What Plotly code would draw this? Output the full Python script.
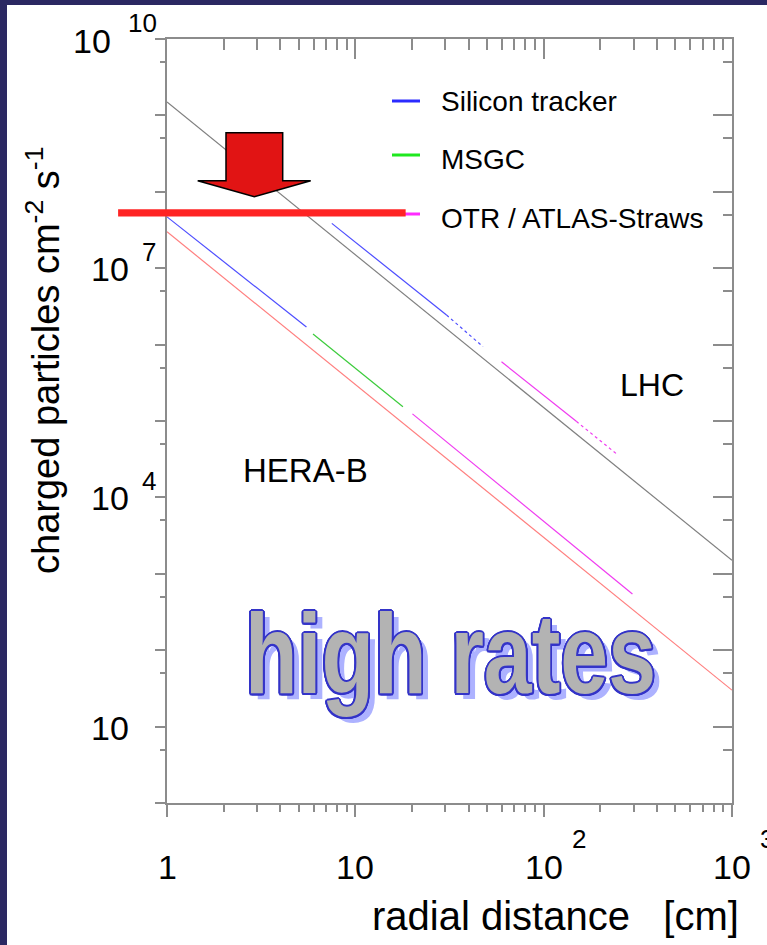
import math
import plotly.graph_objects as go

# ---------------- data ----------------
r_full = [1.0, 1000.0]
lhc_rate = [1.5e9, 1.5e3]            # LHC (gray)
herab_rate = [3.0e7, 30.0]           # HERA-B (salmon)

herab_si_r = [1.0, 5.5]
herab_si_rate = [4.7e7, 1.7e6]
herab_msgc_r = [5.96, 17.9]
herab_msgc_rate = [1.38e6, 1.54e5]
herab_otr_r = [20.1, 296.0]
herab_otr_rate = [1.24e5, 545.0]

lhc_si_r = [7.5, 30.5]
lhc_si_rate = [3.86e7, 2.44e6]
lhc_si_ext_r = [30.5, 47.6]
lhc_si_ext_rate = [2.44e6, 9.4e5]
lhc_otr_r = [59.7, 149.0]
lhc_otr_rate = [5.97e5, 9.9e4]
lhc_otr_ext_r = [149.0, 248.0]
lhc_otr_ext_rate = [9.9e4, 3.59e4]

legend_names = ["Silicon tracker", "MSGC", "OTR / ATLAS-Straws"]
ytick_vals = [10, 1e4, 1e7, 1e10]
ytick_exp = ["", "4", "7", "10"]
xtick_vals = [1, 10, 100, 1000]
xtick_base = ["1", "10", "10", "10"]
xtick_exp = ["", "", "2", "3"]

limit_rate = 5.3e7
limit_r = [0.55, 18.5]

# ---------------- styling ----------------
W, H = 767, 945
L, R, T, B = 167, 35, 39, 142
PW, PH = W - L - R, H - T - B
FONT = "Liberation Sans, Arial, Helvetica, sans-serif"
AX = "#8c8c8c"

C_SI, C_MSGC, C_OTR = "#4d4dff", "#3ccc3c", "#f03cf0"
C_SI_L, C_MSGC_L, C_OTR_L = "#2b2bff", "#1fe81f", "#ff2bff"
C_HERAB, C_LHC = "#ff7f7f", "#808080"


def px2x(px):
    return (px - L) / PW


def py2y(py):
    return (H - B - py) / PH


def lx(v):
    return math.log10(v) / 3.0


def ly(v):
    return math.log10(v) / 10.0


fig = go.Figure()


def seg(x, y, color, dash="solid", width=1.2, xa="x", ya="y"):
    fig.add_trace(go.Scatter(x=x, y=y, mode="lines", xaxis=xa, yaxis=ya,
                             line=dict(color=color, width=width, dash=dash),
                             showlegend=False, hoverinfo="skip"))


seg(r_full, herab_rate, C_HERAB)
seg(herab_si_r, herab_si_rate, C_SI)
seg(herab_msgc_r, herab_msgc_rate, C_MSGC)
seg(herab_otr_r, herab_otr_rate, C_OTR)
seg(lhc_si_r, lhc_si_rate, C_SI)
seg(lhc_si_ext_r, lhc_si_ext_rate, C_SI, dash="dot")
seg(lhc_otr_r, lhc_otr_rate, C_OTR)
seg(lhc_otr_ext_r, lhc_otr_ext_rate, C_OTR, dash="dot")
seg(r_full, lhc_rate, C_LHC, xa="x2", ya="y2")

x_major = [1, 10, 100, 1000]
x_minor = [m * 10 ** e for e in range(3) for m in range(2, 10)]
y_major = [10 ** e for e in range(11)]
y_minor = [5 * 10 ** e for e in range(10)]

common = dict(type="log", showgrid=False, zeroline=False, showline=True,
              linecolor=AX, linewidth=2, tickcolor=AX, tickwidth=1.5,
              tickmode="array", showticklabels=False)

fig.update_layout(
    width=W, height=H,
    margin=dict(l=L, r=R, t=T, b=B, pad=0),
    paper_bgcolor="white", plot_bgcolor="white",
    showlegend=False,
    xaxis=dict(range=[0, 3], tickvals=x_major, ticks="outside", ticklen=12,
               minor=dict(tickmode="array", tickvals=x_minor, ticks="outside",
                          ticklen=7, tickcolor=AX, tickwidth=1.5),
               **common),
    yaxis=dict(range=[0, 10], tickvals=y_major, ticks="outside", ticklen=10,
               minor=dict(tickmode="array", tickvals=y_minor, ticks="outside",
                          ticklen=5, tickcolor=AX, tickwidth=1.5),
               **common),
    xaxis2=dict(range=[0, 3], overlaying="x", side="top", anchor="y2",
                tickvals=x_major, ticks="inside", ticklen=20,
                minor=dict(tickmode="array", tickvals=x_minor, ticks="inside",
                           ticklen=11, tickcolor=AX, tickwidth=1.5),
                **common),
    yaxis2=dict(range=[0, 10], overlaying="y", side="right", anchor="x2",
                tickvals=y_major, ticks="inside", ticklen=19,
                minor=dict(tickmode="array", tickvals=y_minor, ticks="inside",
                           ticklen=9, tickcolor=AX, tickwidth=1.5),
                **common),
)

shapes = []
# dark slide background strips
BG = "#2b2862"
shapes.append(dict(type="rect", xref="paper", yref="paper", layer="below",
                   x0=px2x(0), x1=px2x(7), y0=py2y(H), y1=py2y(0),
                   fillcolor=BG, line=dict(width=0)))
shapes.append(dict(type="rect", xref="paper", yref="paper", layer="below",
                   x0=px2x(0), x1=px2x(W), y0=py2y(5), y1=py2y(0),
                   fillcolor=BG, line=dict(width=0)))

# legend samples
leg_y = [101, 155, 214]
leg_c = [C_SI_L, C_MSGC_L, C_OTR_L]
for yy, cc in zip(leg_y, leg_c):
    shapes.append(dict(type="line", xref="paper", yref="paper",
                       x0=px2x(392), x1=px2x(420), y0=py2y(yy), y1=py2y(yy),
                       line=dict(color=cc, width=3)))

# red limit bar
half = 3.7 / PH
shapes.append(dict(type="rect", xref="paper", yref="paper",
                   x0=lx(limit_r[0]), x1=lx(limit_r[1]),
                   y0=ly(limit_rate) - half, y1=ly(limit_rate) + half,
                   fillcolor="#ff2424", line=dict(width=0)))

# red block arrow
pts = [(226, 132.7), (282.7, 132.7), (282.7, 180.7), (310.7, 180.7),
       (254.3, 196.7), (197.7, 180.7), (226, 180.7)]
path = "M " + " L ".join(f"{px2x(a):.5f},{py2y(b):.5f}" for a, b in pts) + " Z"
shapes.append(dict(type="path", xref="paper", yref="paper", path=path,
                   fillcolor="#e11414", line=dict(color="black", width=1.5)))

fig.update_layout(shapes=shapes)

ann = []


def text(x, y, s, size, xanchor="center", yanchor="middle", color="black",
         family=FONT, **kw):
    ann.append(dict(x=x, y=y, xref="paper", yref="paper", text=s,
                    showarrow=False, xanchor=xanchor, yanchor=yanchor,
                    font=dict(family=family, size=size, color=color), **kw))


# y tick labels
for v, e in zip(ytick_vals, ytick_exp):
    yc = T + (10 - math.log10(v)) * PH / 10
    if e == "10":
        text(px2x(113), py2y(yc + 2), "10", 34, xanchor="right")
        text(px2x(126), py2y(yc - 16), e, 26, xanchor="left")
    else:
        text(px2x(131), py2y(yc + 1), "10", 34, xanchor="right")
        if e:
            text(px2x(140), py2y(yc - 16), e, 26, xanchor="left")

# x tick labels
for v, b_, e in zip(xtick_vals, xtick_base, xtick_exp):
    xc = L + math.log10(v) * PW / 3
    text(px2x(xc), py2y(867), b_, 34)
    if e:
        text(px2x(xc + 26), py2y(839), e, 26, xanchor="left")

# axis titles
text(px2x(741), py2y(916), "radial distance\u00a0\u00a0\u00a0[cm]", 40,
     xanchor="right")
text(px2x(43), py2y(361), "charged particles cm<sup>-2</sup> s<sup>-1</sup>",
     38, textangle=-90)

# legend texts
for yy, name in zip([101, 159, 218], legend_names):
    text(px2x(439), py2y(yy), name, 28, xanchor="left")

# curve labels
text(px2x(652), py2y(385), "LHC", 32)
text(px2x(305), py2y(470), "HERA-B", 33)

# "high rates" (outlined, with a soft offset shadow)
oc = "#3434c8"
offs = []
for k in range(16):
    a = 2 * math.pi * k / 16
    offs.append(f"{2.2 * math.cos(a):.2f}px {1.7 * math.sin(a):.2f}px 0px {oc}")
offs.append("8px 5.5px 0px #adb2ff")
ann.append(dict(x=px2x(243), y=py2y(654), xref="paper", yref="paper",
                text="high rates", showarrow=False, xanchor="left",
                yanchor="middle",
                font=dict(family=FONT, size=86, color="#b3b3b3",
                          weight="bold", shadow=", ".join(offs))))

fig.update_layout(annotations=ann)

post = """
document.body.style.margin = '0';
document.body.style.overflow = 'hidden';
var gd = document.getElementById('{plot_id}');
gd.querySelectorAll('text.annotation-text').forEach(function (t) {
  if (t.textContent === 'high rates') {
    t.style.transformBox = 'fill-box';
    t.style.transformOrigin = 'center';
    t.style.transform = 'scaleY(1.31)';
  }
});
"""
fig.write_html("out.html", post_script=post,
               config={"displayModeBar": False})
